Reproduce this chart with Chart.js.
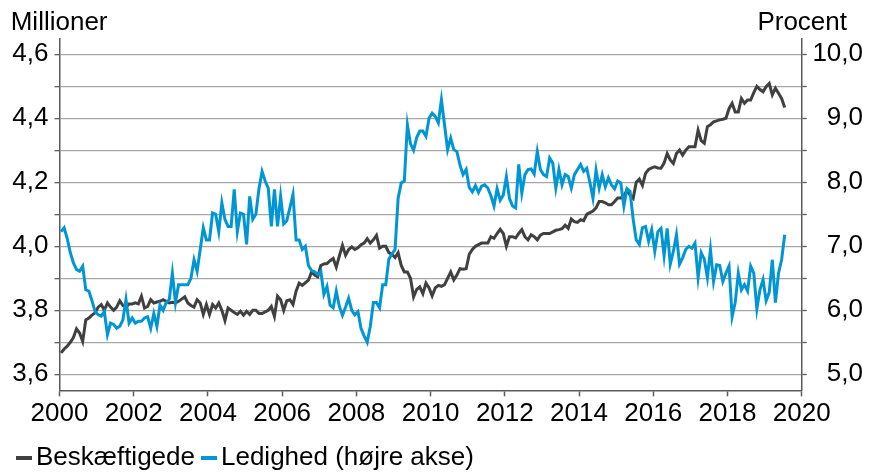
<!DOCTYPE html>
<html><head><meta charset="utf-8">
<script src="https://cdn.jsdelivr.net/npm/chart.js@4.4.0/dist/chart.umd.min.js"></script>
<style>html,body{margin:0;padding:0;background:#fff}canvas{display:block}</style>
</head><body>
<canvas id="c" width="875" height="473"></canvas>
<script>
// ---- data (monthly, Jan 2000 – Jul 2019) ----
const startYear = 2000;
const seriesNames = ['Beskæftigede', 'Ledighed (højre akse)'];
const leftTitle = 'Millioner';
const rightTitle = 'Procent';

// Beskæftigede, millioner (left axis)
const employment = [
  3.667,3.679,3.688,3.700,3.715,3.742,3.729,3.703,3.770,3.776,3.785,3.792, // 2000
  3.810,3.818,3.800,3.823,3.810,3.800,3.810,3.830,3.815,3.810,3.820,3.820, // 2001
  3.823,3.820,3.844,3.807,3.812,3.833,3.823,3.826,3.828,3.833,3.828,3.823, // 2002
  3.825,3.823,3.828,3.835,3.842,3.823,3.815,3.810,3.833,3.823,3.787,3.818, // 2003
  3.787,3.818,3.807,3.823,3.800,3.768,3.807,3.800,3.793,3.787,3.797,3.785, // 2004
  3.797,3.787,3.800,3.800,3.790,3.790,3.795,3.800,3.812,3.781,3.844,3.833, // 2005
  3.800,3.830,3.833,3.818,3.860,3.885,3.878,3.886,3.894,3.920,3.910,3.905, // 2006
  3.940,3.945,3.946,3.955,3.962,3.935,3.970,4.003,3.972,3.990,3.998,3.990, // 2007
  3.995,4.005,4.010,4.024,4.010,4.020,4.034,3.994,4.000,4.000,3.980,3.975, // 2008
  3.965,3.980,3.940,3.920,3.920,3.900,3.842,3.865,3.873,3.852,3.885,3.870, // 2009
  3.845,3.870,3.878,3.875,3.880,3.900,3.920,3.895,3.910,3.930,3.928,3.930, // 2010
  3.975,3.990,4.000,4.005,4.010,4.010,4.010,4.030,4.025,4.040,4.053,4.040, // 2011
  4.000,4.030,4.030,4.026,4.040,4.052,4.030,4.020,4.036,4.030,4.020,4.035, // 2012
  4.040,4.040,4.040,4.045,4.050,4.052,4.055,4.066,4.056,4.085,4.077,4.075, // 2013
  4.083,4.080,4.100,4.105,4.110,4.120,4.140,4.140,4.136,4.130,4.130,4.140, // 2014
  4.151,4.151,4.155,4.177,4.160,4.150,4.200,4.210,4.190,4.228,4.240,4.245, // 2015
  4.248,4.245,4.244,4.260,4.290,4.270,4.259,4.290,4.301,4.285,4.300,4.311, // 2016
  4.311,4.311,4.363,4.330,4.322,4.374,4.380,4.389,4.392,4.395,4.397,4.400, // 2017
  4.430,4.447,4.420,4.420,4.462,4.447,4.457,4.457,4.480,4.500,4.490,4.483, // 2018
  4.499,4.509,4.473,4.494,4.478,4.462,4.434                                // 2019
];

// Ledighed, procent (right axis)
const unemployment = [
  7.23,7.29,7.12,6.90,6.74,6.64,6.61,6.69,6.32,6.30,6.15,5.98, // 2000
  5.93,5.91,5.98,5.62,5.80,5.78,5.72,5.75,5.85,6.17,5.80,5.88, // 2001
  5.80,5.83,5.83,5.88,5.90,5.72,5.95,5.75,6.08,6.00,6.12,6.17, // 2002
  6.58,6.12,6.40,6.40,6.40,6.40,6.50,6.79,6.61,6.95,7.29,7.10, // 2003
  7.10,7.52,7.50,7.23,7.68,7.42,7.31,7.31,7.89,7.23,7.52,7.50, // 2004
  7.03,7.78,7.42,7.50,7.90,8.17,8.02,7.91,7.31,7.89,7.31,7.78, // 2005
  7.35,7.40,7.60,7.81,7.10,7.10,6.95,7.00,6.70,6.62,6.60,6.56, // 2006
  6.61,6.25,6.37,6.08,6.04,6.30,6.06,5.92,6.05,6.19,6.00,5.93, // 2007
  5.98,5.72,5.60,5.50,5.75,6.12,6.12,6.04,6.40,6.40,6.80,6.88, // 2008
  6.95,7.75,7.99,8.02,8.90,8.60,8.50,8.70,8.80,8.80,8.72,9.00, // 2009
  9.08,9.03,8.93,9.29,8.90,8.51,8.69,8.51,8.48,8.27,8.12,8.20, // 2010
  7.92,7.85,7.95,7.84,7.94,7.96,7.91,7.79,7.63,7.90,7.72,7.80, // 2011
  8.09,7.75,7.63,7.60,8.28,7.83,8.12,8.20,8.21,8.13,8.48,8.20, // 2012
  8.12,8.09,8.38,8.30,7.91,8.20,7.96,8.12,8.09,7.91,8.12,8.20, // 2013
  8.28,8.17,8.22,8.00,7.75,8.19,7.91,8.12,7.93,8.07,7.96,7.90, // 2014
  8.02,7.99,7.63,7.90,7.86,7.42,7.10,7.03,7.29,7.31,7.08,7.26, // 2015
  6.92,7.23,7.28,6.85,7.28,6.72,6.92,7.18,6.72,6.82,6.95,7.00, // 2016
  6.97,7.05,6.51,6.90,6.80,6.51,6.95,6.45,6.71,6.70,6.45,6.58, // 2017
  6.69,5.90,6.12,6.58,6.32,6.40,6.30,6.69,6.58,6.02,6.32,6.48, // 2018
  6.15,6.28,6.79,6.12,6.58,6.79,7.18                           // 2019
];

// tick values and labels
const xTicks = [2000,2002,2004,2006,2008,2010,2012,2014,2016,2018,2020];
const xTickLabels = ['2000','2002','2004','2006','2008','2010','2012','2014','2016','2018','2020'];
const leftTicks = [3.6,3.7,3.8,3.9,4.0,4.1,4.2,4.3,4.4,4.5,4.6];
const leftTickLabels = ['3,6','','3,8','','4,0','','4,2','','4,4','','4,6'];
const rightTicks = [5.0,5.5,6.0,6.5,7.0,7.5,8.0,8.5,9.0,9.5,10.0];
const rightTickLabels = ['5,0','','6,0','','7,0','','8,0','','9,0','','10,0'];

// ---- styling ----
const GRAY = '#404040';
const BLUE = '#0096d6';
const AXIS = '#5a5a5a';
const GRID = '#a6a6a6';
const FONT = {family: '"Liberation Sans", Arial, sans-serif', size: 26};

const toPoints = arr => arr.map((v, i) => ({x: startYear + (i + 0.5) / 12, y: v}));

const decor = {
  id: 'decor',
  afterDraw(chart) {
    const ctx = chart.ctx;
    ctx.save();
    ctx.font = '26px "Liberation Sans", Arial, sans-serif';
    ctx.fillStyle = '#000';
    ctx.textBaseline = 'alphabetic';
    ctx.textAlign = 'left';
    ctx.fillText(leftTitle, 10.7, 29.5);
    ctx.textAlign = 'right';
    ctx.fillText(rightTitle, 847, 29.5);
    // legend
    ctx.textAlign = 'left';
    ctx.textBaseline = 'middle';
    let x = 16;
    const y = 458;
    const cols = [GRAY, BLUE];
    seriesNames.forEach((name, i) => {
      ctx.fillStyle = cols[i];
      ctx.fillRect(x, y - 2, 16, 4);
      ctx.fillStyle = '#000';
      ctx.fillText(name, x + 20, y);
      x += 20 + ctx.measureText(name).width + 6;
    });
    ctx.restore();
  }
};

new Chart(document.getElementById('c'), {
  type: 'line',
  data: {
    datasets: [
      {label: seriesNames[0], data: toPoints(employment), yAxisID: 'y', borderColor: GRAY, backgroundColor: GRAY,
       borderWidth: 3, pointRadius: 0, tension: 0, order: 1},
      {label: seriesNames[1], data: toPoints(unemployment), yAxisID: 'y1', borderColor: BLUE, backgroundColor: BLUE,
       borderWidth: 3, pointRadius: 0, tension: 0, order: 0}
    ]
  },
  options: {
    responsive: false,
    animation: false,
    devicePixelRatio: 1,
    layout: {padding: {top: 38.3, right: 12, left: 0, bottom: 0}},
    plugins: {legend: {display: false}, tooltip: {enabled: false}},
    scales: {
      x: {
        type: 'linear', min: 2000, max: 2020,
        afterBuildTicks: s => { s.ticks = xTicks.map(v => ({value: v})); },
        afterFit: s => { s.height = 82.7; },
        grid: {drawOnChartArea: false, drawTicks: true, tickLength: 6, tickColor: AXIS, tickWidth: 1.5},
        border: {display: true, color: AXIS, width: 1.5},
        ticks: {autoSkip: false, maxRotation: 0, padding: 2, color: '#000', font: FONT,
                callback: (v, i) => xTickLabels[i]}
      },
      y: {
        position: 'left', min: 3.55, max: 4.65,
        afterBuildTicks: s => { s.ticks = leftTicks.map(v => ({value: v})); },
        afterFit: s => { s.width = 59.5; },
        grid: {color: GRID, lineWidth: 1.3, tickLength: 5, tickColor: AXIS, tickWidth: 1.3},
        border: {display: true, color: AXIS, width: 1.5},
        ticks: {autoSkip: false, padding: 6, color: '#000', font: FONT,
                callback: (v, i) => leftTickLabels[i]}
      },
      y1: {
        position: 'right', min: 4.75, max: 10.25,
        afterBuildTicks: s => { s.ticks = rightTicks.map(v => ({value: v})); },
        afterFit: s => { s.width = 61.3; },
        grid: {drawOnChartArea: false, tickLength: 5, tickColor: AXIS, tickWidth: 1.3},
        border: {display: true, color: AXIS, width: 1.5},
        ticks: {autoSkip: false, padding: 6, crossAlign: 'far', color: '#000', font: FONT,
                callback: (v, i) => rightTickLabels[i]}
      }
    }
  },
  plugins: [decor]
});
</script>
</body></html>
